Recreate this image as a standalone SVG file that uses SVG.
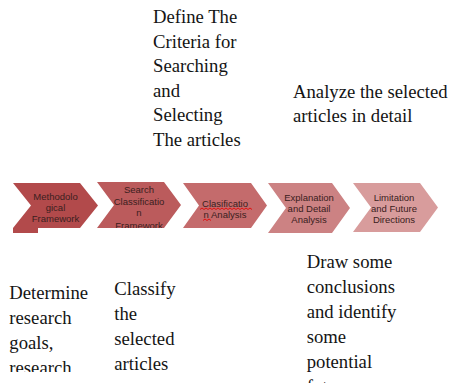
<svg xmlns="http://www.w3.org/2000/svg" width="452" height="383" viewBox="0 0 452 383">
  <defs>
    <style>
      .serif { font-family: "Liberation Serif", "Times New Roman", serif; font-size: 18.7px; fill: #141414; }
      .lbl { font-family: "Liberation Sans", Arial, sans-serif; font-size: 9.5px; fill: #3a2020; text-anchor: middle; }
      .squig { fill: none; stroke: #e01010; stroke-width: 1; }
    </style>
    <clipPath id="clipDet"><rect x="0" y="0" width="110" height="372"/></clipPath>
    <clipPath id="clipC2"><polygon points="97,182 164,182 181,205 164,228 97,228 114,205"/></clipPath>
  </defs>
  <rect width="452" height="383" fill="#ffffff"/>

  <g id="connectors"></g>

  <g id="step1">
    <polygon points="13,183 80,183 98,205.5 80,228 38,228 38,233 13,233 13,228 31,205.5" fill="#b24a4b"/>
    <text class="lbl" x="55.5" y="200">Methodolo</text>
    <text class="lbl" x="55.5" y="211">gical</text>
    <text class="lbl" x="55.5" y="222">Framework</text>
  </g>

  <g id="step2">
    <polygon points="97,182 164,182 181,205 164,228 97,228 114,205" fill="#bb5b5c"/>
    <g clip-path="url(#clipC2)">
      <text class="lbl" x="139" y="193">Search</text>
      <text class="lbl" x="139" y="204.5">Classificatio</text>
      <text class="lbl" x="139" y="216">n</text>
      <text class="lbl" x="139" y="229">Framework</text>
    </g>
  </g>

  <g id="step3">
    <polygon points="183,183 251,183 267,205.5 251,228 183,228 199,205.5" fill="#c46b6c"/>
    <text class="lbl" x="225" y="207">Clasificatio</text>
    <text class="lbl" x="225" y="218">n Analysis</text>
    <path class="squig" d="M200,209.5 l2,-1.5 l2,1.5 l2,-1.5 l2,1.5 l2,-1.5 l2,1.5 l2,-1.5 l2,1.5 l2,-1.5 l2,1.5 l2,-1.5 l2,1.5 l2,-1.5 l2,1.5 l2,-1.5 l2,1.5 l2,-1.5 l2,1.5 l2,-1.5 l2,1.5 l2,-1.5 l2,1.5 l2,-1.5 l2,1.5 l2,-1.5 l2,1.5"/>
    <path class="squig" d="M203,220.5 l2,-1.5 l2,1.5 l2,-1.5 l2,1.5"/>
  </g>

  <g id="step4">
    <polygon points="268,183 332,183 350,208 332,233 268,233 286,208" fill="#cc8283"/>
    <text class="lbl" x="309" y="201">Explanation</text>
    <text class="lbl" x="309" y="212">and Detail</text>
    <text class="lbl" x="309" y="223">Analysis</text>
  </g>

  <g id="step5">
    <polygon points="353,183 420,183 438,207.5 420,232 353,232 371,207.5" fill="#d89c9c"/>
    <text class="lbl" x="394" y="201">Limitation</text>
    <text class="lbl" x="394" y="212">and Future</text>
    <text class="lbl" x="394" y="223">Directions</text>
  </g>

  <g id="note-define">
    <text class="serif" x="153" y="23.3">Define The</text>
    <text class="serif" x="153" y="47.8">Criteria for</text>
    <text class="serif" x="153" y="72.3">Searching</text>
    <text class="serif" x="153" y="96.8">and</text>
    <text class="serif" x="153" y="121.3">Selecting</text>
    <text class="serif" x="153" y="145.8">The articles</text>
  </g>

  <g id="note-analyze">
    <text class="serif" x="293" y="97.5">Analyze the selected</text>
    <text class="serif" x="293" y="122">articles in detail</text>
  </g>

  <g id="note-determine" clip-path="url(#clipDet)">
    <text class="serif" x="9.3" y="299">Determine</text>
    <text class="serif" x="9.3" y="324">research</text>
    <text class="serif" x="9.3" y="349">goals,</text>
    <text class="serif" x="9.3" y="374">research</text>
  </g>

  <g id="note-classify">
    <text class="serif" x="114.3" y="295">Classify</text>
    <text class="serif" x="114.3" y="320">the</text>
    <text class="serif" x="114.3" y="345">selected</text>
    <text class="serif" x="114.3" y="370">articles</text>
  </g>

  <g id="note-draw">
    <text class="serif" x="306.7" y="268">Draw some</text>
    <text class="serif" x="306.7" y="293">conclusions</text>
    <text class="serif" x="306.7" y="318">and identify</text>
    <text class="serif" x="306.7" y="343">some</text>
    <text class="serif" x="306.7" y="368">potential</text>
    <text class="serif" x="306.7" y="393">future</text>
  </g>
</svg>
